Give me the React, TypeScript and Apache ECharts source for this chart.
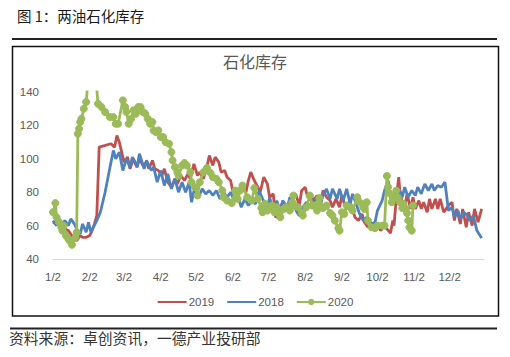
import React, { useEffect, useRef } from "react";
import * as echarts from "echarts";

// x values are days counted from 1/2 (1/2 = 0, 12/31 = 364)
const tickDays = [0, 31, 60, 91, 121, 152, 182, 213, 244, 274, 305, 335];
const tickLabels = ["1/2", "2/2", "3/2", "4/2", "5/2", "6/2", "7/2", "8/2", "9/2", "10/2", "11/2", "12/2"];
const seriesNames = ["2019", "2018", "2020"];

const days2019 = [0, 3, 5, 8, 10, 13, 15, 18, 20, 23, 25, 28, 31, 33, 35, 37, 39, 49, 52, 54, 56, 58, 60, 63, 65, 68, 71, 73, 76, 79, 81, 84, 86, 89, 92, 94, 97, 100, 103, 105, 108, 111, 114, 116, 119, 122, 124, 127, 130, 132, 135, 137, 140, 142, 145, 147, 150, 152, 155, 157, 160, 163, 165, 167, 170, 173, 175, 178, 181, 183, 186, 188, 190, 193, 195, 198, 200, 203, 205, 208, 210, 213, 215, 218, 220, 223, 226, 228, 231, 234, 236, 239, 242, 244, 247, 250, 252, 255, 258, 261, 263, 266, 269, 271, 274, 277, 279, 282, 285, 287, 288, 290, 292, 293, 295, 297, 299, 302, 304, 306, 309, 311, 313, 316, 318, 320, 323, 325, 327, 330, 332, 334, 337, 339, 341, 344, 346, 349, 351, 354, 356, 359, 362];
const values2019 = [62, 61, 64, 60, 58, 57, 55, 52, 51, 54, 53, 53, 54, 57, 61, 66, 107, 109, 107, 114, 110, 104, 98, 101, 94, 100, 95, 100, 96, 98, 94, 99, 94, 93, 90, 94, 86, 83, 88, 85, 90, 87, 91, 88, 97, 90, 92, 88, 95, 102, 96, 101, 98, 92, 93, 89, 87, 80, 82, 79, 82, 80, 87, 92, 87, 83, 80, 89, 85, 77, 79, 65, 66, 73, 69, 71, 74, 77, 79, 72, 81, 83, 77, 78, 75, 78, 72, 81, 77, 75, 71, 76, 71, 78, 71, 74, 72, 65, 63, 67, 62, 59, 61, 57, 60, 57, 60, 58, 55.5, 63, 60, 77, 89, 80, 74, 71, 79, 70, 77, 70, 75, 70, 74, 68, 76, 70, 76, 70, 76, 68, 70, 72, 74, 63, 70, 61, 70, 59, 68, 60, 70, 62, 70, 59];

const days2018 = [0, 3, 5, 8, 10, 13, 15, 18, 20, 23, 25, 28, 30, 32, 34, 37, 40, 44, 48, 51, 53, 56, 59, 62, 65, 67, 71, 73, 77, 79, 83, 85, 88, 91, 94, 97, 100, 103, 106, 109, 112, 115, 117, 120, 123, 126, 129, 132, 135, 138, 141, 144, 147, 150, 153, 156, 159, 162, 165, 168, 171, 174, 177, 181, 183, 186, 189, 192, 194, 198, 200, 203, 206, 208, 211, 214, 217, 219, 223, 225, 228, 231, 234, 236, 240, 242, 245, 248, 251, 253, 257, 259, 262, 265, 269, 272, 274, 278, 280, 283, 286, 289, 291, 293, 295, 297, 300, 303, 306, 308, 311, 314, 317, 320, 322, 325, 328, 331, 334, 337, 339, 342, 344, 347, 350, 352, 355, 358, 362];
const values2018 = [63, 60, 64, 61, 63, 60, 64, 61, 58, 55, 61, 56, 62, 56, 59, 63, 68, 80, 94.5, 105, 100, 104, 93, 100, 95, 101, 95, 103, 94, 99, 93, 95, 86, 93, 84, 91, 82, 88, 80, 86, 80, 86, 74, 84, 77, 82, 79, 81, 78, 81, 76, 80, 77, 80, 75, 78, 71, 76, 72, 75, 73, 81, 76, 71, 77, 68, 75, 68, 75, 71, 77, 73, 68, 66, 71, 74, 72, 74, 76, 71, 78, 82, 76, 82, 76, 82, 75, 82, 73, 79, 71, 67, 63, 65, 61, 62, 69, 75, 81, 87, 74, 79, 76, 81, 77, 83, 77, 81, 78, 83, 79, 85, 81, 85, 81, 84, 83, 86, 69, 71, 65, 69, 64, 68, 66, 63, 66, 57, 52.5];

const days2020 = [0, 2, 3, 5, 7, 8, 9, 11, 13, 14, 16, 19, 20, 21, 22, 23, 24, 26, 28, 31, 36, 38, 41, 44, 48, 51, 53, 55, 59, 61, 62, 64, 66, 68, 70, 72, 74, 76, 78, 80, 82, 84, 85, 87, 89, 91, 93, 95, 98, 100, 101, 103, 105, 106, 109, 111, 113, 116, 117, 120, 122, 124, 127, 130, 133, 135, 138, 140, 143, 144, 147, 151, 154, 156, 158, 160, 164, 168, 170, 173, 176, 177, 179, 181, 185, 187, 189, 191, 192, 195, 197, 200, 202, 203, 204, 207, 210, 211, 214, 217, 219, 223, 224, 225, 228, 231, 234, 236, 238, 241, 242, 244, 246, 248, 251, 253, 257, 259, 262, 263, 265, 266, 269, 272, 274, 278, 280, 282, 283, 284, 286, 287, 289, 290, 291, 293, 295, 296, 298, 299, 300, 301, 303, 304];
const values2020 = [68, 73.5, 65, 62, 59, 57, 60, 54, 52, 51, 48.5, 53, 56, 115, 118, 122, 124, 130, 134, 158, 150, 133, 131, 128, 125, 125, 121, 121, 135, 131, 128, 121, 124, 129, 127, 131, 131, 128, 127, 124, 121, 122, 117, 116, 117, 113, 113, 110, 109, 104, 99, 95, 92, 90, 96, 97.5, 96, 92, 86, 83, 78, 86, 92, 94.5, 91.5, 89, 88, 86, 81, 77, 75, 73.5, 81, 76, 81, 84, 77, 75, 82.5, 76, 70.5, 68, 73, 69, 72, 68, 71, 67, 65, 70, 71, 69, 74, 78, 72, 71, 67.5, 66, 71, 78, 72, 69, 73, 76.5, 70.5, 72, 67.5, 66, 63, 58.5, 57, 68, 67, 72, 71, 69, 77, 74, 71, 70, 74, 63, 59, 58.5, 60, 60, 60, 89.7, 83, 79.5, 74, 76, 78, 81, 77, 74, 70.5, 73, 70, 67.5, 63, 59, 57, 72];

const pair = (d: number[], v: number[]) => d.map((x, i) => [x, v[i]]);

export default function App() {
  const ref = useRef<HTMLDivElement>(null);
  useEffect(() => {
    if (!ref.current) return;
    const chart = echarts.init(ref.current, undefined, { renderer: "svg" });
    const numFont = "'Liberation Sans', Arial, sans-serif";
    const cjk = "'Noto Sans CJK SC', sans-serif";
    chart.setOption({
      animation: false,
      backgroundColor: "#ffffff",
      title: {
        text: "石化库存",
        left: "center",
        top: 48,
        textStyle: { fontSize: 16, fontWeight: "normal", color: "#595959", fontFamily: cjk },
      },
      grid: { left: 53, right: 26, top: 92, bottom: 98, containLabel: false },
      xAxis: {
        type: "value",
        min: 0,
        max: 364,
        axisLine: { show: true, lineStyle: { color: "#d9d9d9", width: 1 } },
        axisTick: { show: false },
        splitLine: { show: false },
        axisLabel: {
          customValues: tickDays,
          formatter: (v: number) => tickLabels[tickDays.indexOf(v)] ?? "",
          color: "#595959",
          fontSize: 11.5,
          fontFamily: numFont,
          margin: 12,
        },
      },
      yAxis: {
        type: "value",
        min: 40,
        max: 140,
        interval: 20,
        axisLine: { show: false },
        axisTick: { show: false },
        splitLine: { show: false },
        axisLabel: { color: "#595959", fontSize: 11.5, fontFamily: numFont, margin: 14 },
      },
      legend: {
        data: [
          { name: seriesNames[0], itemStyle: { opacity: 0 } },
          { name: seriesNames[1], itemStyle: { opacity: 0 } },
          { name: seriesNames[2] },
        ],
        left: "center",
        top: 291,
        itemGap: 12,
        itemWidth: 29,
        itemHeight: 8,
        textStyle: { color: "#595959", fontSize: 11.5, fontFamily: numFont, padding: [0, 0, 0, -3] },
      },
      series: [
        {
          name: "2019",
          type: "line",
          data: pair(days2019, values2019),
          symbol: "none",
          lineStyle: { color: "#C0504D", width: 2.8 },
          itemStyle: { color: "#C0504D" },
        },
        {
          name: "2018",
          type: "line",
          data: pair(days2018, values2018),
          symbol: "none",
          lineStyle: { color: "#4F81BD", width: 2.8 },
          itemStyle: { color: "#4F81BD" },
        },
        {
          name: "2020",
          type: "line",
          data: pair(days2020, values2020),
          symbol: "circle",
          symbolSize: 7,
          showSymbol: true,
          lineStyle: { color: "#9BBB59", width: 2.8 },
          itemStyle: { color: "#9BBB59", borderColor: "#9BBB59" },
        },
      ],
      graphic: [
        {
          type: "text",
          left: 17,
          top: 8,
          style: { text: "图 1：两油石化库存", fontSize: 14.5, fontFamily: cjk, fill: "#1a1a1a" },
        },
        { type: "line", shape: { x1: 12, y1: 39, x2: 497, y2: 39 }, style: { stroke: "#222", lineWidth: 2 } },
        {
          type: "rect",
          shape: { x: 12.5, y: 46.5, width: 486, height: 269.5 },
          style: { fill: "none", stroke: "#111", lineWidth: 1.5 },
        },
        { type: "line", shape: { x1: 10, y1: 328.5, x2: 497, y2: 328.5 }, style: { stroke: "#222", lineWidth: 2 } },
        {
          type: "text",
          left: 9,
          top: 330,
          style: { text: "资料来源：卓创资讯，一德产业投研部", fontSize: 14.8, fontFamily: cjk, fill: "#333" },
        },
      ],
    });
    return () => chart.dispose();
  }, []);
  return <div ref={ref} style={{ position: "absolute", left: 0, top: 0, width: 510, height: 357 }} />;
}
